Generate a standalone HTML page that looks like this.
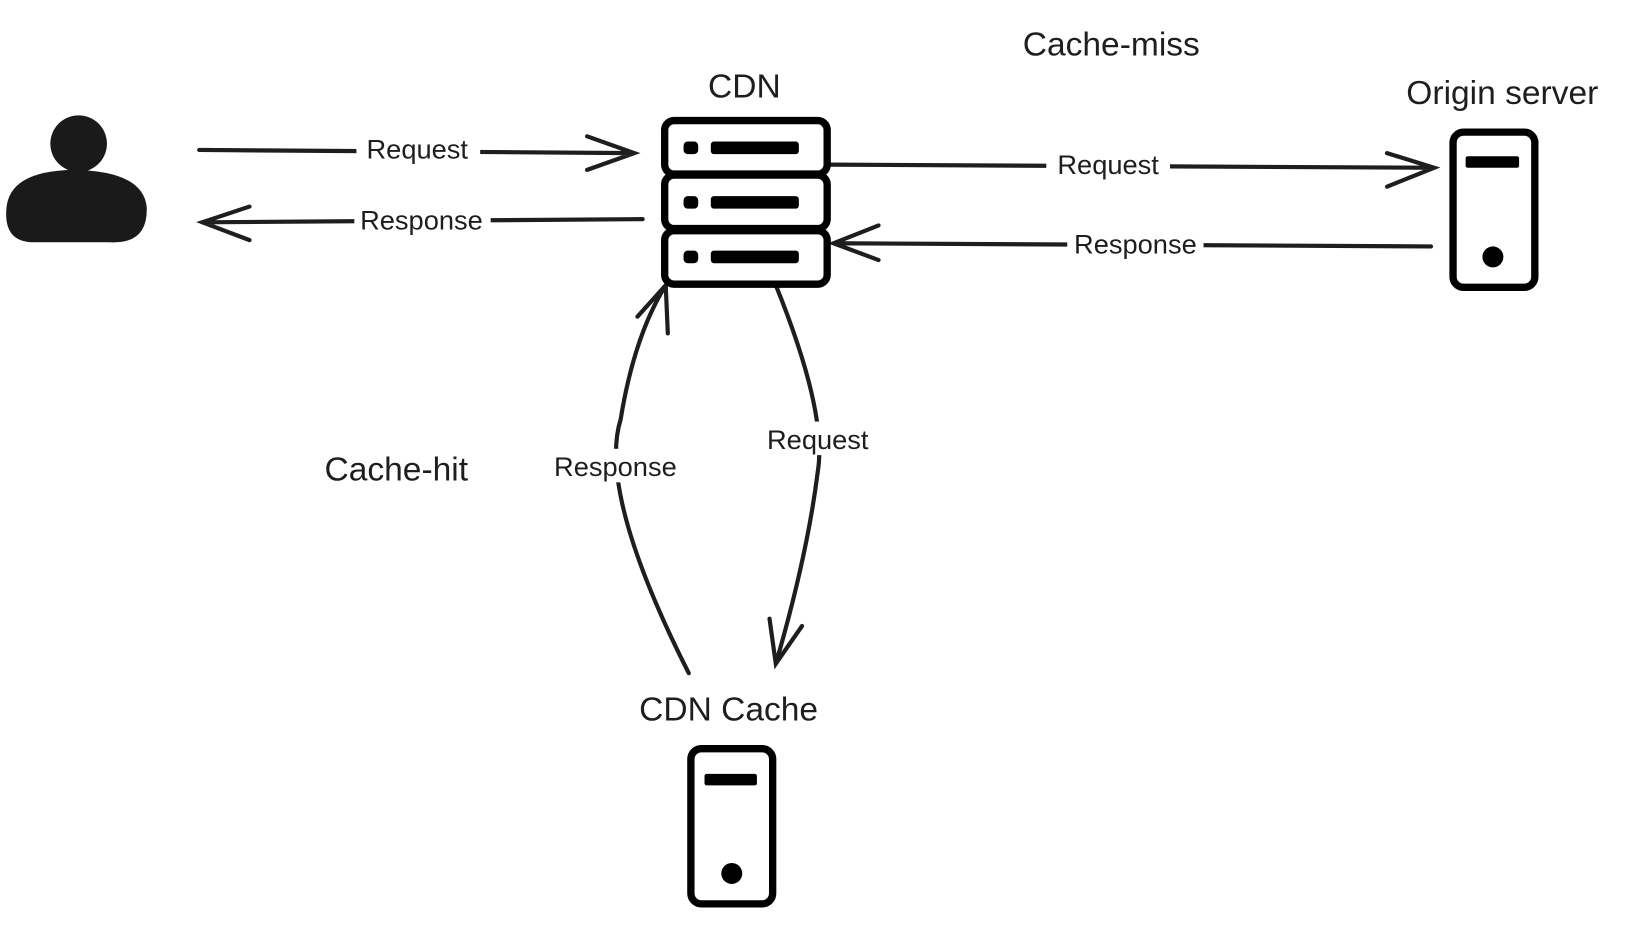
<!DOCTYPE html>
<html><head><meta charset="utf-8"><style>html,body{margin:0;padding:0;background:#fff;}svg{display:block}</style></head>
<body>
<svg width="1647" height="928" viewBox="0 0 1571 885" preserveAspectRatio="none" xmlns="http://www.w3.org/2000/svg" font-family="Liberation Sans, sans-serif">
<rect width="1571" height="885" fill="#fff"/>
<circle cx="75" cy="137" r="27" fill="#1a1a1a"/>
<path d="M6 200 Q8 163 70 162 Q137 163 140 198 Q141 233 105 231 L30 231 Q4 230 6 200Z" fill="#1a1a1a"/>
<g stroke="#1e1e1e" stroke-width="4" fill="none" stroke-linecap="round">
<path d="M190 143 L605 146 M560 130 L605 146 L560 162"/>
<path d="M613 209 L193 212 M238 197 L193 212 L238 229"/>
<path d="M790 157 L1368 160 M1323 146 L1368 160 L1323 178"/>
<path d="M1365 235 L795 232 M838 215 L795 232 L838 248"/>
<path d="M657 642 Q570 470 592 400 Q605 320 635 272 M608 302 L635 272 L637 318"/>
<path d="M733 255 Q790 390 780 450 Q770 530 740 633 M734 590 L740 633 L765 597"/>
</g>
<g stroke="#000" stroke-width="7" fill="#fff">
<rect x="634" y="115" width="155" height="51" rx="9"/>
<rect x="634" y="167" width="155" height="51" rx="9"/>
<rect x="634" y="220" width="155" height="51" rx="9"/>
</g>
<g fill="#000">
<rect x="652" y="135" width="14" height="12" rx="4"/><rect x="678" y="135" width="84" height="12" rx="3"/>
<rect x="652" y="187" width="14" height="12" rx="4"/><rect x="678" y="187" width="84" height="12" rx="3"/>
<rect x="652" y="239" width="14" height="12" rx="4"/><rect x="678" y="239" width="84" height="12" rx="3"/>
</g>
<rect x="1386" y="126" width="78" height="148" rx="10" fill="#fff" stroke="#000" stroke-width="7"/>
<rect x="1398" y="149" width="51" height="11" rx="2" fill="#000"/>
<circle cx="1424" cy="245" r="10" fill="#000"/>
<rect x="659" y="714" width="78" height="148" rx="10" fill="#fff" stroke="#000" stroke-width="7"/>
<rect x="672" y="738" width="50" height="11" rx="2" fill="#000"/>
<circle cx="698" cy="833" r="10" fill="#000"/>
<g font-size="26" fill="#1e1e1e" text-anchor="middle">
<rect x="340" y="126" width="118" height="30" fill="#fff"/><text x="398" y="151">Request</text>
<rect x="338" y="195" width="130" height="30" fill="#fff"/><text x="402" y="219">Response</text>
<rect x="998" y="142" width="118" height="30" fill="#fff"/><text x="1057" y="166">Request</text>
<rect x="1018" y="218" width="130" height="30" fill="#fff"/><text x="1083" y="242">Response</text>
<rect x="522" y="428" width="130" height="32" fill="#fff"/><text x="587" y="454">Response</text>
<rect x="722" y="402" width="116" height="32" fill="#fff"/><text x="780" y="428">Request</text>
</g>
<g font-size="32" fill="#1e1e1e" text-anchor="middle">
<text x="710" y="93">CDN</text>
<text x="1060" y="53">Cache-miss</text>
<text x="1433" y="99">Origin server</text>
<text x="378" y="458">Cache-hit</text>
<text x="695" y="687">CDN Cache</text>
</g>
</svg>
</body></html>
